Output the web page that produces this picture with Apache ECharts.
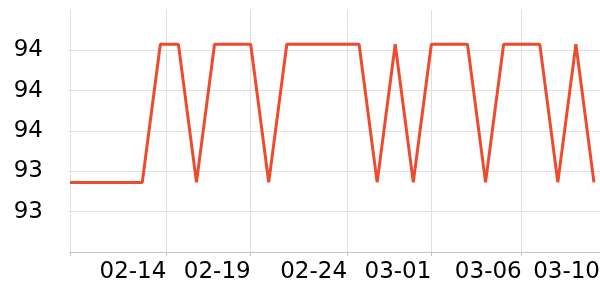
<!DOCTYPE html>
<html>
<head>
<meta charset="utf-8">
<script src="https://cdn.jsdelivr.net/npm/echarts@6/dist/echarts.min.js"></script>
<style>
  html, body { margin: 0; padding: 0; background: #fff; }
  #chart { width: 600px; height: 300px; }
</style>
</head>
<body>
<div id="chart"></div>
<script>
// Tick labels on the x axis and the category slot each one sits on
const dateLabels = ['02-14', '02-19', '02-24', '03-01', '03-06', '03-10'];
const dateSlots = [16, 30, 46, 60, 75, 88];
const slotCount = 89;      // number of category slots on the x axis
const sampleStep = 3;      // one sample every 3 slots

// Series values (one per sample)
const values = [
  93.345, 93.345, 93.345, 93.345, 93.345,
  94.03, 94.03, 93.345, 94.03, 94.03,
  94.03, 93.345, 94.03, 94.03, 94.03,
  94.03, 94.03, 93.345, 94.03, 93.345,
  94.03, 94.03, 94.03, 93.345, 94.03,
  94.03, 94.03, 93.345, 94.03, 93.345
];

// y axis ticks
const yMin = 93.0, yMax = 94.2, yStep = 0.2;

const categories = [];
const seriesData = [];
for (let i = 0; i < slotCount; i++) {
  const li = dateSlots.indexOf(i);
  categories.push(li >= 0 ? dateLabels[li] : '');
  seriesData.push(i % sampleStep === 0 && (i / sampleStep) < values.length ? values[i / sampleStep] : null);
}

const chart = echarts.init(document.getElementById('chart'), null, { renderer: 'canvas' });
chart.setOption({
  animation: false,
  grid: { left: 70, right: 0, top: 10, bottom: 48, containLabel: false, outerBoundsMode: 'none' },
  xAxis: {
    type: 'category',
    data: categories,
    boundaryGap: false,
    axisLine: { show: true, lineStyle: { color: '#c4c4c4', width: 1 } },
    axisTick: { show: true, length: 4, interval: (i) => i === 0 || dateSlots.includes(i), lineStyle: { color: '#c4c4c4' } },
    splitLine: { show: true, interval: (i) => i === 0 || dateSlots.includes(i), lineStyle: { color: '#e0e0e0', width: 1 } },
    axisLabel: {
      interval: (i) => dateSlots.includes(i),
      align: 'right',
      color: '#000',
      fontFamily: 'DejaVu Sans',
      fontSize: 23,
      margin: 9
    }
  },
  yAxis: {
    type: 'value',
    min: yMin,
    max: yMax,
    interval: yStep,
    axisLine: { show: true, lineStyle: { color: '#e0e0e0' } },
    axisTick: { show: true, length: 2, lineStyle: { color: '#e0e0e0' } },
    splitLine: { show: true, showMaxLine: false, lineStyle: { color: '#e0e0e0', width: 1 } },
    axisLabel: {
      showMinLabel: false,
      showMaxLabel: false,
      formatter: (v) => v.toFixed(0),
      color: '#000',
      fontFamily: 'DejaVu Sans',
      fontSize: 23,
      margin: 27
    }
  },
  series: [{
    type: 'line',
    data: seriesData,
    connectNulls: true,
    showSymbol: false,
    symbol: 'none',
    lineStyle: { color: '#ee4b2e', width: 3 },
    itemStyle: { color: '#ee4b2e' }
  }]
});
</script>
</body>
</html>
